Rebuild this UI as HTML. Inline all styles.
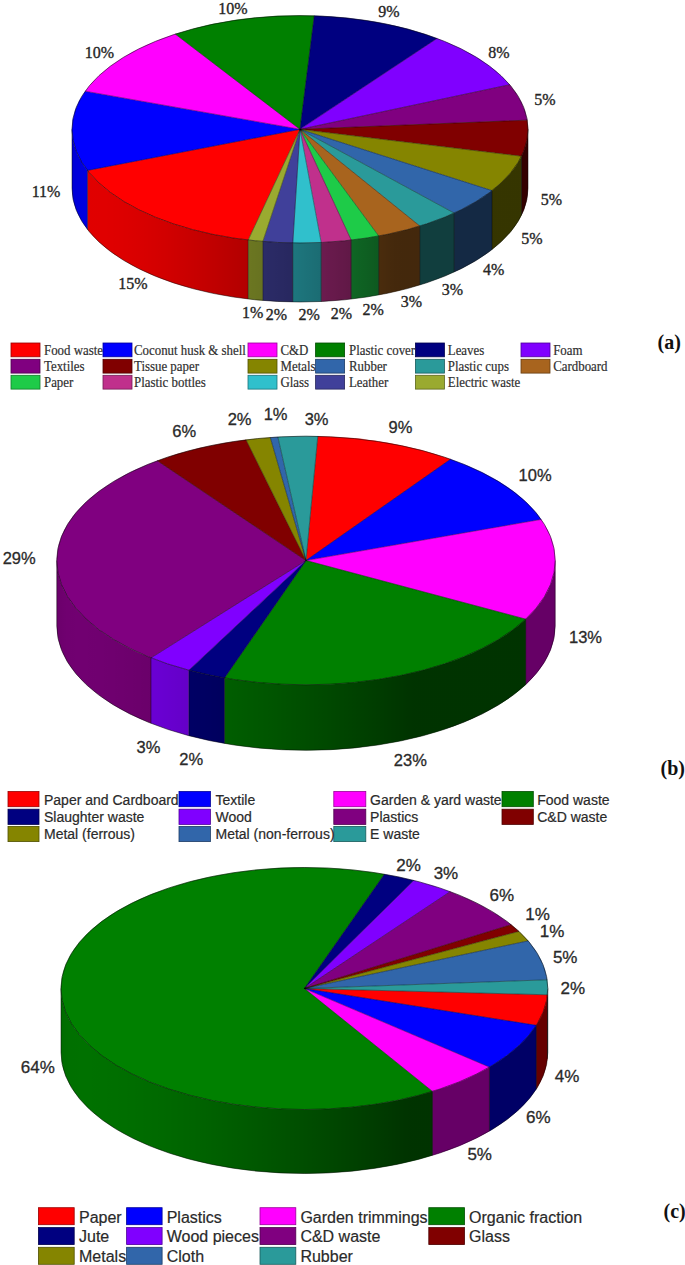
<!DOCTYPE html>
<html><head><meta charset="utf-8"><title>Waste composition pie charts</title>
<style>html,body{margin:0;padding:0;background:#fff;width:685px;height:1265px;overflow:hidden}svg{display:block}</style>
</head><body>
<svg width="685" height="1265" viewBox="0 0 685 1265">
<style>
.ls{font-family:"Liberation Serif",serif;font-size:16px;fill:#262626;stroke:#262626;stroke-width:0.35px}
.lb{font-family:"Liberation Sans",sans-serif;font-size:16.5px;fill:#2a2a2a;stroke:#2a2a2a;stroke-width:0.3px}
.lc{font-family:"Liberation Sans",sans-serif;font-size:17px;fill:#2a2a2a;stroke:#2a2a2a;stroke-width:0.3px}
.gs{font-family:"Liberation Serif",serif;font-size:14px;fill:#303030;stroke:#303030;stroke-width:0.2px}
.gb{font-family:"Liberation Sans",sans-serif;font-size:14px;fill:#2a2a2a;stroke:#2a2a2a;stroke-width:0.2px}
.gc{font-family:"Liberation Sans",sans-serif;font-size:16px;fill:#2a2a2a;stroke:#2a2a2a;stroke-width:0.2px}
.tag{font-family:"Liberation Serif",serif;font-size:20px;font-weight:bold;fill:#111}
</style>
<rect width="685" height="1265" fill="#fff"/>
<g>
<linearGradient id="ga" gradientUnits="userSpaceOnUse" x1="72.00" y1="0" x2="528.00" y2="0">
<stop offset="0.0" stop-color="#000" stop-opacity="0.165"/>
<stop offset="0.0208" stop-color="#000" stop-opacity="0.125"/>
<stop offset="0.0417" stop-color="#000" stop-opacity="0.12"/>
<stop offset="0.0625" stop-color="#000" stop-opacity="0.121"/>
<stop offset="0.0833" stop-color="#000" stop-opacity="0.125"/>
<stop offset="0.1042" stop-color="#000" stop-opacity="0.132"/>
<stop offset="0.125" stop-color="#000" stop-opacity="0.14"/>
<stop offset="0.1458" stop-color="#000" stop-opacity="0.149"/>
<stop offset="0.1667" stop-color="#000" stop-opacity="0.159"/>
<stop offset="0.1875" stop-color="#000" stop-opacity="0.17"/>
<stop offset="0.2083" stop-color="#000" stop-opacity="0.181"/>
<stop offset="0.2292" stop-color="#000" stop-opacity="0.194"/>
<stop offset="0.25" stop-color="#000" stop-opacity="0.207"/>
<stop offset="0.2708" stop-color="#000" stop-opacity="0.22"/>
<stop offset="0.2917" stop-color="#000" stop-opacity="0.234"/>
<stop offset="0.3125" stop-color="#000" stop-opacity="0.249"/>
<stop offset="0.3333" stop-color="#000" stop-opacity="0.264"/>
<stop offset="0.3542" stop-color="#000" stop-opacity="0.279"/>
<stop offset="0.375" stop-color="#000" stop-opacity="0.295"/>
<stop offset="0.3958" stop-color="#000" stop-opacity="0.311"/>
<stop offset="0.4167" stop-color="#000" stop-opacity="0.327"/>
<stop offset="0.4375" stop-color="#000" stop-opacity="0.344"/>
<stop offset="0.4583" stop-color="#000" stop-opacity="0.362"/>
<stop offset="0.4792" stop-color="#000" stop-opacity="0.379"/>
<stop offset="0.5" stop-color="#000" stop-opacity="0.397"/>
<stop offset="0.5208" stop-color="#000" stop-opacity="0.415"/>
<stop offset="0.5417" stop-color="#000" stop-opacity="0.434"/>
<stop offset="0.5625" stop-color="#000" stop-opacity="0.453"/>
<stop offset="0.5833" stop-color="#000" stop-opacity="0.472"/>
<stop offset="0.6042" stop-color="#000" stop-opacity="0.492"/>
<stop offset="0.625" stop-color="#000" stop-opacity="0.512"/>
<stop offset="0.6458" stop-color="#000" stop-opacity="0.533"/>
<stop offset="0.6667" stop-color="#000" stop-opacity="0.554"/>
<stop offset="0.6875" stop-color="#000" stop-opacity="0.575"/>
<stop offset="0.7083" stop-color="#000" stop-opacity="0.597"/>
<stop offset="0.7292" stop-color="#000" stop-opacity="0.6"/>
<stop offset="0.75" stop-color="#000" stop-opacity="0.6"/>
<stop offset="0.7708" stop-color="#000" stop-opacity="0.6"/>
<stop offset="0.7917" stop-color="#000" stop-opacity="0.6"/>
<stop offset="0.8125" stop-color="#000" stop-opacity="0.6"/>
<stop offset="0.8333" stop-color="#000" stop-opacity="0.6"/>
<stop offset="0.8542" stop-color="#000" stop-opacity="0.6"/>
<stop offset="0.875" stop-color="#000" stop-opacity="0.6"/>
<stop offset="0.8958" stop-color="#000" stop-opacity="0.6"/>
<stop offset="0.9167" stop-color="#000" stop-opacity="0.6"/>
<stop offset="0.9375" stop-color="#000" stop-opacity="0.6"/>
<stop offset="0.9583" stop-color="#000" stop-opacity="0.6"/>
<stop offset="0.9792" stop-color="#000" stop-opacity="0.6"/>
<stop offset="1.0" stop-color="#000" stop-opacity="0.6"/>
</linearGradient>
<path d="M248.20 240.03 A228.00 113.70 0 0 1 87.43 170.42 L87.43 229.42 A228.00 113.70 0 0 0 248.20 299.03 Z" fill="#ff0000"/>
<path d="M87.43 170.42 A228.00 113.70 0 0 1 72.00 129.30 L72.00 188.30 A228.00 113.70 0 0 0 87.43 229.42 Z" fill="#0000ff"/>
<path d="M528.00 129.30 A228.00 113.70 0 0 1 521.52 156.21 L521.52 215.21 A228.00 113.70 0 0 0 528.00 188.30 Z" fill="#800000"/>
<path d="M521.52 156.21 A228.00 113.70 0 0 1 492.02 190.61 L492.02 249.61 A228.00 113.70 0 0 0 521.52 215.21 Z" fill="#858500"/>
<path d="M492.02 190.61 A228.00 113.70 0 0 1 454.17 213.07 L454.17 272.07 A228.00 113.70 0 0 0 492.02 249.61 Z" fill="#3166aa"/>
<path d="M454.17 213.07 A228.00 113.70 0 0 1 419.81 226.04 L419.81 285.04 A228.00 113.70 0 0 0 454.17 272.07 Z" fill="#2a9a9a"/>
<path d="M419.81 226.04 A228.00 113.70 0 0 1 378.70 236.01 L378.70 295.01 A228.00 113.70 0 0 0 419.81 285.04 Z" fill="#a8641e"/>
<path d="M378.70 236.01 A228.00 113.70 0 0 1 351.20 240.10 L351.20 299.10 A228.00 113.70 0 0 0 378.70 295.01 Z" fill="#1ecb48"/>
<path d="M351.20 240.10 A228.00 113.70 0 0 1 321.20 242.51 L321.20 301.51 A228.00 113.70 0 0 0 351.20 299.10 Z" fill="#c0308c"/>
<path d="M321.20 242.51 A228.00 113.70 0 0 1 292.80 242.94 L292.80 301.94 A228.00 113.70 0 0 0 321.20 301.51 Z" fill="#30c0cc"/>
<path d="M292.80 242.94 A228.00 113.70 0 0 1 262.80 241.48 L262.80 300.48 A228.00 113.70 0 0 0 292.80 301.94 Z" fill="#40409a"/>
<path d="M262.80 241.48 A228.00 113.70 0 0 1 248.20 240.03 L248.20 299.03 A228.00 113.70 0 0 0 262.80 300.48 Z" fill="#9aaa30"/>
<path d="M528.00 129.30 A228.00 113.70 0 0 1 72.00 129.30 L72.00 188.30 A228.00 113.70 0 0 0 528.00 188.30 Z" fill="url(#ga)"/>
<path d="M248.20 240.03V299.03 M87.43 170.42V229.42 M521.52 156.21V215.21 M492.02 190.61V249.61 M454.17 213.07V272.07 M419.81 226.04V285.04 M378.70 236.01V295.01 M351.20 240.10V299.10 M321.20 242.51V301.51 M292.80 242.94V301.94 M262.80 241.48V300.48" stroke="#000" stroke-opacity="0.5" stroke-width="0.8" fill="none"/>
<path d="M528.00 129.30 V188.30 A228.00 113.70 0 0 1 72.00 188.30 V129.30" stroke="#000" stroke-opacity="0.55" stroke-width="0.9" fill="none"/>
<path d="M300.00 129.30 L248.20 240.03 A228.00 113.70 0 0 1 87.43 170.42 Z" fill="#ff0000" stroke="#ff0000" stroke-width="0.3" stroke-linejoin="round"/>
<path d="M300.00 129.30 L87.43 170.42 A228.00 113.70 0 0 1 85.19 91.19 Z" fill="#0000ff" stroke="#0000ff" stroke-width="0.3" stroke-linejoin="round"/>
<path d="M300.00 129.30 L85.19 91.19 A228.00 113.70 0 0 1 175.36 34.09 Z" fill="#ff00ff" stroke="#ff00ff" stroke-width="0.3" stroke-linejoin="round"/>
<path d="M300.00 129.30 L175.36 34.09 A228.00 113.70 0 0 1 314.31 15.82 Z" fill="#008000" stroke="#008000" stroke-width="0.3" stroke-linejoin="round"/>
<path d="M300.00 129.30 L314.31 15.82 A228.00 113.70 0 0 1 437.12 38.46 Z" fill="#000080" stroke="#000080" stroke-width="0.3" stroke-linejoin="round"/>
<path d="M300.00 129.30 L437.12 38.46 A228.00 113.70 0 0 1 509.72 84.69 Z" fill="#8000ff" stroke="#8000ff" stroke-width="0.3" stroke-linejoin="round"/>
<path d="M300.00 129.30 L509.72 84.69 A228.00 113.70 0 0 1 527.26 120.15 Z" fill="#800080" stroke="#800080" stroke-width="0.3" stroke-linejoin="round"/>
<path d="M300.00 129.30 L527.26 120.15 A228.00 113.70 0 0 1 521.52 156.21 Z" fill="#800000" stroke="#800000" stroke-width="0.3" stroke-linejoin="round"/>
<path d="M300.00 129.30 L521.52 156.21 A228.00 113.70 0 0 1 492.02 190.61 Z" fill="#858500" stroke="#858500" stroke-width="0.3" stroke-linejoin="round"/>
<path d="M300.00 129.30 L492.02 190.61 A228.00 113.70 0 0 1 454.17 213.07 Z" fill="#3166aa" stroke="#3166aa" stroke-width="0.3" stroke-linejoin="round"/>
<path d="M300.00 129.30 L454.17 213.07 A228.00 113.70 0 0 1 419.81 226.04 Z" fill="#2a9a9a" stroke="#2a9a9a" stroke-width="0.3" stroke-linejoin="round"/>
<path d="M300.00 129.30 L419.81 226.04 A228.00 113.70 0 0 1 378.70 236.01 Z" fill="#a8641e" stroke="#a8641e" stroke-width="0.3" stroke-linejoin="round"/>
<path d="M300.00 129.30 L378.70 236.01 A228.00 113.70 0 0 1 351.20 240.10 Z" fill="#1ecb48" stroke="#1ecb48" stroke-width="0.3" stroke-linejoin="round"/>
<path d="M300.00 129.30 L351.20 240.10 A228.00 113.70 0 0 1 321.20 242.51 Z" fill="#c0308c" stroke="#c0308c" stroke-width="0.3" stroke-linejoin="round"/>
<path d="M300.00 129.30 L321.20 242.51 A228.00 113.70 0 0 1 292.80 242.94 Z" fill="#30c0cc" stroke="#30c0cc" stroke-width="0.3" stroke-linejoin="round"/>
<path d="M300.00 129.30 L292.80 242.94 A228.00 113.70 0 0 1 262.80 241.48 Z" fill="#40409a" stroke="#40409a" stroke-width="0.3" stroke-linejoin="round"/>
<path d="M300.00 129.30 L262.80 241.48 A228.00 113.70 0 0 1 248.20 240.03 Z" fill="#9aaa30" stroke="#9aaa30" stroke-width="0.3" stroke-linejoin="round"/>
<path d="M300.00 129.30 L248.20 240.03 M300.00 129.30 L87.43 170.42 M300.00 129.30 L85.19 91.19 M300.00 129.30 L175.36 34.09 M300.00 129.30 L314.31 15.82 M300.00 129.30 L437.12 38.46 M300.00 129.30 L509.72 84.69 M300.00 129.30 L527.26 120.15 M300.00 129.30 L521.52 156.21 M300.00 129.30 L492.02 190.61 M300.00 129.30 L454.17 213.07 M300.00 129.30 L419.81 226.04 M300.00 129.30 L378.70 236.01 M300.00 129.30 L351.20 240.10 M300.00 129.30 L321.20 242.51 M300.00 129.30 L292.80 242.94 M300.00 129.30 L262.80 241.48" stroke="#000" stroke-opacity="0.55" stroke-width="0.7" fill="none"/>
<ellipse cx="300.00" cy="129.30" rx="228.00" ry="113.70" fill="none" stroke="#000" stroke-opacity="0.6" stroke-width="0.9"/>
<linearGradient id="gb" gradientUnits="userSpaceOnUse" x1="56.80" y1="0" x2="555.20" y2="0">
<stop offset="0.0" stop-color="#000" stop-opacity="0.165"/>
<stop offset="0.0208" stop-color="#000" stop-opacity="0.125"/>
<stop offset="0.0417" stop-color="#000" stop-opacity="0.12"/>
<stop offset="0.0625" stop-color="#000" stop-opacity="0.121"/>
<stop offset="0.0833" stop-color="#000" stop-opacity="0.125"/>
<stop offset="0.1042" stop-color="#000" stop-opacity="0.132"/>
<stop offset="0.125" stop-color="#000" stop-opacity="0.14"/>
<stop offset="0.1458" stop-color="#000" stop-opacity="0.149"/>
<stop offset="0.1667" stop-color="#000" stop-opacity="0.159"/>
<stop offset="0.1875" stop-color="#000" stop-opacity="0.17"/>
<stop offset="0.2083" stop-color="#000" stop-opacity="0.181"/>
<stop offset="0.2292" stop-color="#000" stop-opacity="0.194"/>
<stop offset="0.25" stop-color="#000" stop-opacity="0.207"/>
<stop offset="0.2708" stop-color="#000" stop-opacity="0.22"/>
<stop offset="0.2917" stop-color="#000" stop-opacity="0.234"/>
<stop offset="0.3125" stop-color="#000" stop-opacity="0.249"/>
<stop offset="0.3333" stop-color="#000" stop-opacity="0.264"/>
<stop offset="0.3542" stop-color="#000" stop-opacity="0.279"/>
<stop offset="0.375" stop-color="#000" stop-opacity="0.295"/>
<stop offset="0.3958" stop-color="#000" stop-opacity="0.311"/>
<stop offset="0.4167" stop-color="#000" stop-opacity="0.327"/>
<stop offset="0.4375" stop-color="#000" stop-opacity="0.344"/>
<stop offset="0.4583" stop-color="#000" stop-opacity="0.362"/>
<stop offset="0.4792" stop-color="#000" stop-opacity="0.379"/>
<stop offset="0.5" stop-color="#000" stop-opacity="0.397"/>
<stop offset="0.5208" stop-color="#000" stop-opacity="0.415"/>
<stop offset="0.5417" stop-color="#000" stop-opacity="0.434"/>
<stop offset="0.5625" stop-color="#000" stop-opacity="0.453"/>
<stop offset="0.5833" stop-color="#000" stop-opacity="0.472"/>
<stop offset="0.6042" stop-color="#000" stop-opacity="0.492"/>
<stop offset="0.625" stop-color="#000" stop-opacity="0.512"/>
<stop offset="0.6458" stop-color="#000" stop-opacity="0.533"/>
<stop offset="0.6667" stop-color="#000" stop-opacity="0.554"/>
<stop offset="0.6875" stop-color="#000" stop-opacity="0.575"/>
<stop offset="0.7083" stop-color="#000" stop-opacity="0.597"/>
<stop offset="0.7292" stop-color="#000" stop-opacity="0.6"/>
<stop offset="0.75" stop-color="#000" stop-opacity="0.6"/>
<stop offset="0.7708" stop-color="#000" stop-opacity="0.6"/>
<stop offset="0.7917" stop-color="#000" stop-opacity="0.6"/>
<stop offset="0.8125" stop-color="#000" stop-opacity="0.6"/>
<stop offset="0.8333" stop-color="#000" stop-opacity="0.6"/>
<stop offset="0.8542" stop-color="#000" stop-opacity="0.6"/>
<stop offset="0.875" stop-color="#000" stop-opacity="0.6"/>
<stop offset="0.8958" stop-color="#000" stop-opacity="0.6"/>
<stop offset="0.9167" stop-color="#000" stop-opacity="0.6"/>
<stop offset="0.9375" stop-color="#000" stop-opacity="0.6"/>
<stop offset="0.9583" stop-color="#000" stop-opacity="0.6"/>
<stop offset="0.9792" stop-color="#000" stop-opacity="0.6"/>
<stop offset="1.0" stop-color="#000" stop-opacity="0.6"/>
</linearGradient>
<path d="M555.20 560.50 A249.20 124.30 0 0 1 525.71 619.15 L525.71 684.65 A249.20 124.30 0 0 0 555.20 626.00 Z" fill="#ff00ff"/>
<path d="M525.71 619.15 A249.20 124.30 0 0 1 224.50 677.96 L224.50 743.46 A249.20 124.30 0 0 0 525.71 684.65 Z" fill="#008000"/>
<path d="M224.50 677.96 A249.20 124.30 0 0 1 188.80 670.20 L188.80 735.70 A249.20 124.30 0 0 0 224.50 743.46 Z" fill="#000080"/>
<path d="M188.80 670.20 A249.20 124.30 0 0 1 151.00 657.83 L151.00 723.33 A249.20 124.30 0 0 0 188.80 735.70 Z" fill="#8000ff"/>
<path d="M151.00 657.83 A249.20 124.30 0 0 1 56.80 560.50 L56.80 626.00 A249.20 124.30 0 0 0 151.00 723.33 Z" fill="#800080"/>
<path d="M555.20 560.50 A249.20 124.30 0 0 1 56.80 560.50 L56.80 626.00 A249.20 124.30 0 0 0 555.20 626.00 Z" fill="url(#gb)"/>
<path d="M525.71 619.15V684.65 M224.50 677.96V743.46 M188.80 670.20V735.70 M151.00 657.83V723.33" stroke="#000" stroke-opacity="0.5" stroke-width="0.8" fill="none"/>
<path d="M555.20 560.50 V626.00 A249.20 124.30 0 0 1 56.80 626.00 V560.50" stroke="#000" stroke-opacity="0.55" stroke-width="0.9" fill="none"/>
<path d="M306.00 560.50 L317.77 436.34 A249.20 124.30 0 0 1 450.57 459.25 Z" fill="#ff0000" stroke="#ff0000" stroke-width="0.3" stroke-linejoin="round"/>
<path d="M306.00 560.50 L450.57 459.25 A249.20 124.30 0 0 1 541.21 519.44 Z" fill="#0000ff" stroke="#0000ff" stroke-width="0.3" stroke-linejoin="round"/>
<path d="M306.00 560.50 L541.21 519.44 A249.20 124.30 0 0 1 525.71 619.15 Z" fill="#ff00ff" stroke="#ff00ff" stroke-width="0.3" stroke-linejoin="round"/>
<path d="M306.00 560.50 L525.71 619.15 A249.20 124.30 0 0 1 224.50 677.96 Z" fill="#008000" stroke="#008000" stroke-width="0.3" stroke-linejoin="round"/>
<path d="M306.00 560.50 L224.50 677.96 A249.20 124.30 0 0 1 188.80 670.20 Z" fill="#000080" stroke="#000080" stroke-width="0.3" stroke-linejoin="round"/>
<path d="M306.00 560.50 L188.80 670.20 A249.20 124.30 0 0 1 151.00 657.83 Z" fill="#8000ff" stroke="#8000ff" stroke-width="0.3" stroke-linejoin="round"/>
<path d="M306.00 560.50 L151.00 657.83 A249.20 124.30 0 0 1 157.40 460.72 Z" fill="#800080" stroke="#800080" stroke-width="0.3" stroke-linejoin="round"/>
<path d="M306.00 560.50 L157.40 460.72 A249.20 124.30 0 0 1 246.08 439.85 Z" fill="#800000" stroke="#800000" stroke-width="0.3" stroke-linejoin="round"/>
<path d="M306.00 560.50 L246.08 439.85 A249.20 124.30 0 0 1 270.32 437.48 Z" fill="#858500" stroke="#858500" stroke-width="0.3" stroke-linejoin="round"/>
<path d="M306.00 560.50 L270.32 437.48 A249.20 124.30 0 0 1 277.86 436.99 Z" fill="#3166aa" stroke="#3166aa" stroke-width="0.3" stroke-linejoin="round"/>
<path d="M306.00 560.50 L277.86 436.99 A249.20 124.30 0 0 1 317.77 436.34 Z" fill="#2a9a9a" stroke="#2a9a9a" stroke-width="0.3" stroke-linejoin="round"/>
<path d="M306.00 560.50 L317.77 436.34 M306.00 560.50 L450.57 459.25 M306.00 560.50 L541.21 519.44 M306.00 560.50 L525.71 619.15 M306.00 560.50 L224.50 677.96 M306.00 560.50 L188.80 670.20 M306.00 560.50 L151.00 657.83 M306.00 560.50 L157.40 460.72 M306.00 560.50 L246.08 439.85 M306.00 560.50 L270.32 437.48 M306.00 560.50 L277.86 436.99" stroke="#000" stroke-opacity="0.55" stroke-width="0.7" fill="none"/>
<ellipse cx="306.00" cy="560.50" rx="249.20" ry="124.30" fill="none" stroke="#000" stroke-opacity="0.6" stroke-width="0.9"/>
<linearGradient id="gc" gradientUnits="userSpaceOnUse" x1="61.00" y1="0" x2="547.80" y2="0">
<stop offset="0.0" stop-color="#000" stop-opacity="0.165"/>
<stop offset="0.0208" stop-color="#000" stop-opacity="0.125"/>
<stop offset="0.0417" stop-color="#000" stop-opacity="0.12"/>
<stop offset="0.0625" stop-color="#000" stop-opacity="0.121"/>
<stop offset="0.0833" stop-color="#000" stop-opacity="0.125"/>
<stop offset="0.1042" stop-color="#000" stop-opacity="0.132"/>
<stop offset="0.125" stop-color="#000" stop-opacity="0.14"/>
<stop offset="0.1458" stop-color="#000" stop-opacity="0.149"/>
<stop offset="0.1667" stop-color="#000" stop-opacity="0.159"/>
<stop offset="0.1875" stop-color="#000" stop-opacity="0.17"/>
<stop offset="0.2083" stop-color="#000" stop-opacity="0.181"/>
<stop offset="0.2292" stop-color="#000" stop-opacity="0.194"/>
<stop offset="0.25" stop-color="#000" stop-opacity="0.207"/>
<stop offset="0.2708" stop-color="#000" stop-opacity="0.22"/>
<stop offset="0.2917" stop-color="#000" stop-opacity="0.234"/>
<stop offset="0.3125" stop-color="#000" stop-opacity="0.249"/>
<stop offset="0.3333" stop-color="#000" stop-opacity="0.264"/>
<stop offset="0.3542" stop-color="#000" stop-opacity="0.279"/>
<stop offset="0.375" stop-color="#000" stop-opacity="0.295"/>
<stop offset="0.3958" stop-color="#000" stop-opacity="0.311"/>
<stop offset="0.4167" stop-color="#000" stop-opacity="0.327"/>
<stop offset="0.4375" stop-color="#000" stop-opacity="0.344"/>
<stop offset="0.4583" stop-color="#000" stop-opacity="0.362"/>
<stop offset="0.4792" stop-color="#000" stop-opacity="0.379"/>
<stop offset="0.5" stop-color="#000" stop-opacity="0.397"/>
<stop offset="0.5208" stop-color="#000" stop-opacity="0.415"/>
<stop offset="0.5417" stop-color="#000" stop-opacity="0.434"/>
<stop offset="0.5625" stop-color="#000" stop-opacity="0.453"/>
<stop offset="0.5833" stop-color="#000" stop-opacity="0.472"/>
<stop offset="0.6042" stop-color="#000" stop-opacity="0.492"/>
<stop offset="0.625" stop-color="#000" stop-opacity="0.512"/>
<stop offset="0.6458" stop-color="#000" stop-opacity="0.533"/>
<stop offset="0.6667" stop-color="#000" stop-opacity="0.554"/>
<stop offset="0.6875" stop-color="#000" stop-opacity="0.575"/>
<stop offset="0.7083" stop-color="#000" stop-opacity="0.597"/>
<stop offset="0.7292" stop-color="#000" stop-opacity="0.6"/>
<stop offset="0.75" stop-color="#000" stop-opacity="0.6"/>
<stop offset="0.7708" stop-color="#000" stop-opacity="0.6"/>
<stop offset="0.7917" stop-color="#000" stop-opacity="0.6"/>
<stop offset="0.8125" stop-color="#000" stop-opacity="0.6"/>
<stop offset="0.8333" stop-color="#000" stop-opacity="0.6"/>
<stop offset="0.8542" stop-color="#000" stop-opacity="0.6"/>
<stop offset="0.875" stop-color="#000" stop-opacity="0.6"/>
<stop offset="0.8958" stop-color="#000" stop-opacity="0.6"/>
<stop offset="0.9167" stop-color="#000" stop-opacity="0.6"/>
<stop offset="0.9375" stop-color="#000" stop-opacity="0.6"/>
<stop offset="0.9583" stop-color="#000" stop-opacity="0.6"/>
<stop offset="0.9792" stop-color="#000" stop-opacity="0.6"/>
<stop offset="1.0" stop-color="#000" stop-opacity="0.6"/>
</linearGradient>
<path d="M547.47 994.79 A243.40 121.00 0 0 1 536.24 1025.35 L536.24 1089.35 A243.40 121.00 0 0 0 547.47 1058.79 Z" fill="#ff0000"/>
<path d="M536.24 1025.35 A243.40 121.00 0 0 1 489.40 1067.13 L489.40 1131.13 A243.40 121.00 0 0 0 536.24 1089.35 Z" fill="#0000ff"/>
<path d="M489.40 1067.13 A243.40 121.00 0 0 1 432.38 1091.42 L432.38 1155.42 A243.40 121.00 0 0 0 489.40 1131.13 Z" fill="#ff00ff"/>
<path d="M432.38 1091.42 A243.40 121.00 0 0 1 61.00 988.50 L61.00 1052.50 A243.40 121.00 0 0 0 432.38 1155.42 Z" fill="#008000"/>
<path d="M547.80 988.50 A243.40 121.00 0 0 1 547.47 994.79 L547.47 1058.79 A243.40 121.00 0 0 0 547.80 1052.50 Z" fill="#2a9a9a"/>
<path d="M547.80 988.50 A243.40 121.00 0 0 1 61.00 988.50 L61.00 1052.50 A243.40 121.00 0 0 0 547.80 1052.50 Z" fill="url(#gc)"/>
<path d="M547.47 994.79V1058.79 M536.24 1025.35V1089.35 M489.40 1067.13V1131.13 M432.38 1091.42V1155.42" stroke="#000" stroke-opacity="0.5" stroke-width="0.8" fill="none"/>
<path d="M547.80 988.50 V1052.50 A243.40 121.00 0 0 1 61.00 1052.50 V988.50" stroke="#000" stroke-opacity="0.55" stroke-width="0.9" fill="none"/>
<path d="M304.40 988.50 L547.47 994.79 A243.40 121.00 0 0 1 536.24 1025.35 Z" fill="#ff0000" stroke="#ff0000" stroke-width="0.3" stroke-linejoin="round"/>
<path d="M304.40 988.50 L536.24 1025.35 A243.40 121.00 0 0 1 489.40 1067.13 Z" fill="#0000ff" stroke="#0000ff" stroke-width="0.3" stroke-linejoin="round"/>
<path d="M304.40 988.50 L489.40 1067.13 A243.40 121.00 0 0 1 432.38 1091.42 Z" fill="#ff00ff" stroke="#ff00ff" stroke-width="0.3" stroke-linejoin="round"/>
<path d="M304.40 988.50 L432.38 1091.42 A243.40 121.00 0 1 1 384.43 874.23 Z" fill="#008000" stroke="#008000" stroke-width="0.3" stroke-linejoin="round"/>
<path d="M304.40 988.50 L384.43 874.23 A243.40 121.00 0 0 1 413.80 880.41 Z" fill="#000080" stroke="#000080" stroke-width="0.3" stroke-linejoin="round"/>
<path d="M304.40 988.50 L413.80 880.41 A243.40 121.00 0 0 1 450.25 891.63 Z" fill="#8000ff" stroke="#8000ff" stroke-width="0.3" stroke-linejoin="round"/>
<path d="M304.40 988.50 L450.25 891.63 A243.40 121.00 0 0 1 511.17 924.67 Z" fill="#800080" stroke="#800080" stroke-width="0.3" stroke-linejoin="round"/>
<path d="M304.40 988.50 L511.17 924.67 A243.40 121.00 0 0 1 519.00 931.40 Z" fill="#800000" stroke="#800000" stroke-width="0.3" stroke-linejoin="round"/>
<path d="M304.40 988.50 L519.00 931.40 A243.40 121.00 0 0 1 528.14 940.86 Z" fill="#858500" stroke="#858500" stroke-width="0.3" stroke-linejoin="round"/>
<path d="M304.40 988.50 L528.14 940.86 A243.40 121.00 0 0 1 547.17 979.80 Z" fill="#3166aa" stroke="#3166aa" stroke-width="0.3" stroke-linejoin="round"/>
<path d="M304.40 988.50 L547.17 979.80 A243.40 121.00 0 0 1 547.47 994.79 Z" fill="#2a9a9a" stroke="#2a9a9a" stroke-width="0.3" stroke-linejoin="round"/>
<path d="M304.40 988.50 L547.47 994.79 M304.40 988.50 L536.24 1025.35 M304.40 988.50 L489.40 1067.13 M304.40 988.50 L432.38 1091.42 M304.40 988.50 L384.43 874.23 M304.40 988.50 L413.80 880.41 M304.40 988.50 L450.25 891.63 M304.40 988.50 L511.17 924.67 M304.40 988.50 L519.00 931.40 M304.40 988.50 L528.14 940.86 M304.40 988.50 L547.17 979.80" stroke="#000" stroke-opacity="0.55" stroke-width="0.7" fill="none"/>
<ellipse cx="304.40" cy="988.50" rx="243.40" ry="121.00" fill="none" stroke="#000" stroke-opacity="0.6" stroke-width="0.9"/>
<text x="233.00" y="14.00" class="ls" text-anchor="middle">10%</text>
<text x="99.35" y="58.20" class="ls" text-anchor="middle">10%</text>
<text x="388.90" y="17.40" class="ls" text-anchor="middle">9%</text>
<text x="498.90" y="58.20" class="ls" text-anchor="middle">8%</text>
<text x="544.85" y="105.00" class="ls" text-anchor="middle">5%</text>
<text x="551.35" y="205.20" class="ls" text-anchor="middle">5%</text>
<text x="531.90" y="244.10" class="ls" text-anchor="middle">5%</text>
<text x="493.55" y="274.80" class="ls" text-anchor="middle">4%</text>
<text x="452.50" y="294.80" class="ls" text-anchor="middle">3%</text>
<text x="411.45" y="307.20" class="ls" text-anchor="middle">3%</text>
<text x="373.05" y="314.50" class="ls" text-anchor="middle">2%</text>
<text x="341.35" y="318.70" class="ls" text-anchor="middle">2%</text>
<text x="309.10" y="320.10" class="ls" text-anchor="middle">2%</text>
<text x="276.30" y="319.50" class="ls" text-anchor="middle">2%</text>
<text x="252.60" y="318.00" class="ls" text-anchor="middle">1%</text>
<text x="46.00" y="196.60" class="ls" text-anchor="middle">11%</text>
<text x="132.80" y="289.40" class="ls" text-anchor="middle">15%</text>
<text x="184.30" y="437.00" class="lb" text-anchor="middle">6%</text>
<text x="239.60" y="425.20" class="lb" text-anchor="middle">2%</text>
<text x="275.60" y="420.20" class="lb" text-anchor="middle">1%</text>
<text x="316.60" y="424.70" class="lb" text-anchor="middle">3%</text>
<text x="400.45" y="432.80" class="lb" text-anchor="middle">9%</text>
<text x="535.10" y="481.30" class="lb" text-anchor="middle">10%</text>
<text x="585.50" y="642.80" class="lb" text-anchor="middle">13%</text>
<text x="19.20" y="563.60" class="lb" text-anchor="middle">29%</text>
<text x="148.45" y="752.60" class="lb" text-anchor="middle">3%</text>
<text x="191.15" y="764.80" class="lb" text-anchor="middle">2%</text>
<text x="410.35" y="765.60" class="lb" text-anchor="middle">23%</text>
<text x="408.50" y="870.70" class="lc" text-anchor="middle">2%</text>
<text x="445.95" y="879.10" class="lc" text-anchor="middle">3%</text>
<text x="501.80" y="901.40" class="lc" text-anchor="middle">6%</text>
<text x="537.50" y="920.20" class="lc" text-anchor="middle">1%</text>
<text x="552.05" y="937.40" class="lc" text-anchor="middle">1%</text>
<text x="565.20" y="962.80" class="lc" text-anchor="middle">5%</text>
<text x="572.90" y="994.00" class="lc" text-anchor="middle">2%</text>
<text x="567.10" y="1082.40" class="lc" text-anchor="middle">4%</text>
<text x="538.25" y="1123.30" class="lc" text-anchor="middle">6%</text>
<text x="479.70" y="1159.70" class="lc" text-anchor="middle">5%</text>
<text x="37.75" y="1072.70" class="lc" text-anchor="middle">64%</text>
<rect x="11.00" y="343.00" width="29.00" height="13.80" fill="#ff0000" stroke="#990000" stroke-width="0.8"/>
<rect x="103.00" y="343.00" width="29.00" height="13.80" fill="#0000ff" stroke="#000099" stroke-width="0.8"/>
<rect x="248.00" y="343.00" width="29.00" height="13.80" fill="#ff00ff" stroke="#990099" stroke-width="0.8"/>
<rect x="315.60" y="343.00" width="29.00" height="13.80" fill="#008000" stroke="#004d00" stroke-width="0.8"/>
<rect x="415.40" y="343.00" width="29.00" height="13.80" fill="#000080" stroke="#00004d" stroke-width="0.8"/>
<rect x="521.00" y="343.00" width="29.00" height="13.80" fill="#8000ff" stroke="#4d0099" stroke-width="0.8"/>
<rect x="11.00" y="359.30" width="29.00" height="13.80" fill="#800080" stroke="#4d004d" stroke-width="0.8"/>
<rect x="103.00" y="359.30" width="29.00" height="13.80" fill="#800000" stroke="#4d0000" stroke-width="0.8"/>
<rect x="248.00" y="359.30" width="29.00" height="13.80" fill="#858500" stroke="#505000" stroke-width="0.8"/>
<rect x="315.60" y="359.30" width="29.00" height="13.80" fill="#3166aa" stroke="#1d3d66" stroke-width="0.8"/>
<rect x="415.40" y="359.30" width="29.00" height="13.80" fill="#2a9a9a" stroke="#195c5c" stroke-width="0.8"/>
<rect x="521.00" y="359.30" width="29.00" height="13.80" fill="#a8641e" stroke="#653c12" stroke-width="0.8"/>
<rect x="11.00" y="375.30" width="29.00" height="13.80" fill="#1ecb48" stroke="#127a2b" stroke-width="0.8"/>
<rect x="103.00" y="375.30" width="29.00" height="13.80" fill="#c0308c" stroke="#731d54" stroke-width="0.8"/>
<rect x="248.00" y="375.30" width="29.00" height="13.80" fill="#30c0cc" stroke="#1d737a" stroke-width="0.8"/>
<rect x="315.60" y="375.30" width="29.00" height="13.80" fill="#40409a" stroke="#26265c" stroke-width="0.8"/>
<rect x="415.40" y="375.30" width="29.00" height="13.80" fill="#9aaa30" stroke="#5c661d" stroke-width="0.8"/>
<text transform="translate(44.00 354.60) scale(0.92 1)" class="gs">Food waste</text>
<text transform="translate(134.00 354.60) scale(0.92 1)" class="gs">Coconut husk &amp; shell</text>
<text transform="translate(280.50 354.60) scale(0.92 1)" class="gs">C&amp;D</text>
<text transform="translate(349.00 354.60) scale(0.92 1)" class="gs">Plastic cover</text>
<text transform="translate(447.80 354.60) scale(0.92 1)" class="gs">Leaves</text>
<text transform="translate(553.20 354.60) scale(0.92 1)" class="gs">Foam</text>
<text transform="translate(44.00 370.90) scale(0.92 1)" class="gs">Textiles</text>
<text transform="translate(134.00 370.90) scale(0.92 1)" class="gs">Tissue paper</text>
<text transform="translate(280.50 370.90) scale(0.92 1)" class="gs">Metals</text>
<text transform="translate(349.00 370.90) scale(0.92 1)" class="gs">Rubber</text>
<text transform="translate(447.80 370.90) scale(0.92 1)" class="gs">Plastic cups</text>
<text transform="translate(553.20 370.90) scale(0.92 1)" class="gs">Cardboard</text>
<text transform="translate(44.00 386.90) scale(0.92 1)" class="gs">Paper</text>
<text transform="translate(134.00 386.90) scale(0.92 1)" class="gs">Plastic bottles</text>
<text transform="translate(280.50 386.90) scale(0.92 1)" class="gs">Glass</text>
<text transform="translate(349.00 386.90) scale(0.92 1)" class="gs">Leather</text>
<text transform="translate(447.80 386.90) scale(0.92 1)" class="gs">Electric waste</text>
<rect x="8.00" y="791.50" width="31.00" height="15.20" fill="#ff0000" stroke="#990000" stroke-width="0.8"/>
<rect x="179.00" y="791.50" width="31.40" height="15.20" fill="#0000ff" stroke="#000099" stroke-width="0.8"/>
<rect x="333.80" y="791.50" width="32.00" height="15.20" fill="#ff00ff" stroke="#990099" stroke-width="0.8"/>
<rect x="502.00" y="791.50" width="31.30" height="15.20" fill="#008000" stroke="#004d00" stroke-width="0.8"/>
<rect x="8.00" y="809.20" width="31.00" height="15.20" fill="#000080" stroke="#00004d" stroke-width="0.8"/>
<rect x="179.00" y="809.20" width="31.40" height="15.20" fill="#8000ff" stroke="#4d0099" stroke-width="0.8"/>
<rect x="333.80" y="809.20" width="32.00" height="15.20" fill="#800080" stroke="#4d004d" stroke-width="0.8"/>
<rect x="502.00" y="809.20" width="31.30" height="15.20" fill="#800000" stroke="#4d0000" stroke-width="0.8"/>
<rect x="8.00" y="826.40" width="31.00" height="15.20" fill="#858500" stroke="#505000" stroke-width="0.8"/>
<rect x="179.00" y="826.40" width="31.40" height="15.20" fill="#3166aa" stroke="#1d3d66" stroke-width="0.8"/>
<rect x="333.80" y="826.40" width="32.00" height="15.20" fill="#2a9a9a" stroke="#195c5c" stroke-width="0.8"/>
<text x="44.00" y="804.50" class="gb" text-anchor="start">Paper and Cardboard</text>
<text x="215.50" y="804.50" class="gb" text-anchor="start">Textile</text>
<text x="370.10" y="804.50" class="gb" text-anchor="start">Garden &amp; yard waste</text>
<text x="537.20" y="804.50" class="gb" text-anchor="start">Food waste</text>
<text x="44.00" y="822.20" class="gb" text-anchor="start">Slaughter waste</text>
<text x="215.50" y="822.20" class="gb" text-anchor="start">Wood</text>
<text x="370.10" y="822.20" class="gb" text-anchor="start">Plastics</text>
<text x="537.20" y="822.20" class="gb" text-anchor="start">C&amp;D waste</text>
<text x="44.00" y="839.40" class="gb" text-anchor="start">Metal (ferrous)</text>
<text x="215.50" y="839.40" class="gb" text-anchor="start">Metal (non-ferrous)</text>
<text x="370.10" y="839.40" class="gb" text-anchor="start">E waste</text>
<rect x="38.40" y="1207.70" width="35.80" height="17.00" fill="#ff0000" stroke="#990000" stroke-width="0.8"/>
<rect x="126.60" y="1207.70" width="35.50" height="17.00" fill="#0000ff" stroke="#000099" stroke-width="0.8"/>
<rect x="260.00" y="1207.70" width="35.80" height="17.00" fill="#ff00ff" stroke="#990099" stroke-width="0.8"/>
<rect x="428.80" y="1207.70" width="35.70" height="17.00" fill="#008000" stroke="#004d00" stroke-width="0.8"/>
<rect x="38.40" y="1227.60" width="35.80" height="17.00" fill="#000080" stroke="#00004d" stroke-width="0.8"/>
<rect x="126.60" y="1227.60" width="35.50" height="17.00" fill="#8000ff" stroke="#4d0099" stroke-width="0.8"/>
<rect x="260.00" y="1227.60" width="35.80" height="17.00" fill="#800080" stroke="#4d004d" stroke-width="0.8"/>
<rect x="428.80" y="1227.60" width="35.70" height="17.00" fill="#800000" stroke="#4d0000" stroke-width="0.8"/>
<rect x="38.40" y="1247.30" width="35.80" height="17.00" fill="#858500" stroke="#505000" stroke-width="0.8"/>
<rect x="126.60" y="1247.30" width="35.50" height="17.00" fill="#3166aa" stroke="#1d3d66" stroke-width="0.8"/>
<rect x="260.00" y="1247.30" width="35.80" height="17.00" fill="#2a9a9a" stroke="#195c5c" stroke-width="0.8"/>
<text x="79.00" y="1222.50" class="gc" text-anchor="start">Paper</text>
<text x="166.70" y="1222.50" class="gc" text-anchor="start">Plastics</text>
<text x="300.40" y="1222.50" class="gc" text-anchor="start">Garden trimmings</text>
<text x="469.10" y="1222.50" class="gc" text-anchor="start">Organic fraction</text>
<text x="79.00" y="1242.40" class="gc" text-anchor="start">Jute</text>
<text x="166.70" y="1242.40" class="gc" text-anchor="start">Wood pieces</text>
<text x="300.40" y="1242.40" class="gc" text-anchor="start">C&amp;D waste</text>
<text x="469.10" y="1242.40" class="gc" text-anchor="start">Glass</text>
<text x="79.00" y="1262.10" class="gc" text-anchor="start">Metals</text>
<text x="166.70" y="1262.10" class="gc" text-anchor="start">Cloth</text>
<text x="300.40" y="1262.10" class="gc" text-anchor="start">Rubber</text>
<text x="657.5" y="349" class="tag">(a)</text>
<text x="660.5" y="775" class="tag">(b)</text>
<text x="663.5" y="1217.5" class="tag">(c)</text>
</g>
</svg>
</body></html>
